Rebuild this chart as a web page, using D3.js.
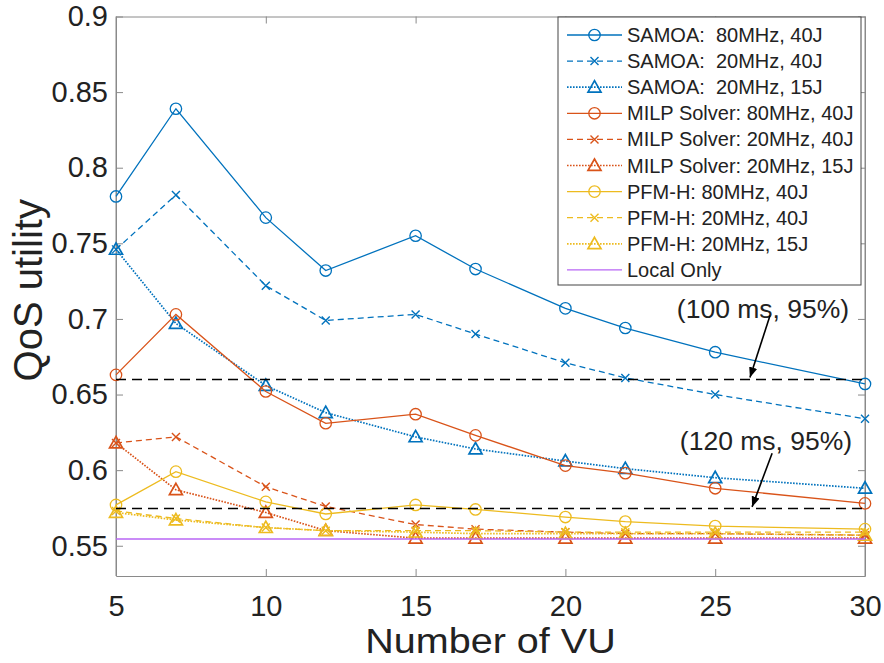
<!DOCTYPE html>
<meta charset="utf-8">
<head>
<title>QoS utility vs number of VU</title>
<style>
  body { margin: 0; background: #fff; }
  text { font-family: "Liberation Sans", Arial, sans-serif; fill: #222; }
</style>
</head>
<body>
<svg width="884" height="663"></svg>
<script src="https://cdn.jsdelivr.net/npm/d3@7"></script>
<script>

// x values (number of VU)
var numVU = [5, 7, 10, 12, 15, 17, 20, 22, 25, 30];

// series values
var samoa80_40 = [0.781, 0.839, 0.767, 0.732, 0.755, 0.733, 0.707, 0.694, 0.678, 0.657];
var samoa20_40 = [0.746, 0.782, 0.722, 0.699, 0.703, 0.690, 0.671, 0.661, 0.650, 0.634];
var samoa20_15 = [0.746, 0.697, 0.656, 0.638, 0.622, 0.614, 0.606, 0.601, 0.595, 0.588];
var milp80_40  = [0.663, 0.703, 0.652, 0.631, 0.637, 0.623, 0.603, 0.598, 0.588, 0.578];
var milp20_40  = [0.618, 0.622, 0.589, 0.576, 0.564, 0.561, 0.559, 0.558, 0.558, 0.557];
var milp20_15  = [0.618, 0.587, 0.572, 0.560, 0.555, 0.555, 0.555, 0.555, 0.555, 0.555];
var pfm80_40   = [0.577, 0.599, 0.579, 0.571, 0.577, 0.574, 0.569, 0.566, 0.563, 0.561];
var pfm20_40   = [0.573, 0.568, 0.562, 0.560, 0.560, 0.560, 0.559, 0.559, 0.559, 0.559];
var pfm20_15   = [0.572, 0.567, 0.562, 0.560, 0.559, 0.558, 0.558, 0.558, 0.558, 0.557];
var localOnly  = [0.5545, 0.5545, 0.5545, 0.5545, 0.5545, 0.5545, 0.5545, 0.5545, 0.5545, 0.5545];

var seriesNames = [
  "SAMOA:  80MHz, 40J", "SAMOA:  20MHz, 40J", "SAMOA:  20MHz, 15J",
  "MILP Solver: 80MHz, 40J", "MILP Solver: 20MHz, 40J", "MILP Solver: 20MHz, 15J",
  "PFM-H: 80MHz, 40J", "PFM-H: 20MHz, 40J", "PFM-H: 20MHz, 15J",
  "Local Only"
];

// reference thresholds and their notes
var refLevels = [0.66, 0.5747];
var refNotes = ["(100 ms, 95%)", "(120 ms, 95%)"];
var noteAt = [[23.72, 0.7004], [23.82, 0.6132]];          // text anchor (x, y)
var arrowFrom = [[26.83, 0.7023], [26.9, 0.6112]];
var arrowTo = [[26.16, 0.6612], [26.23, 0.5757]];

var xTicks = [5, 10, 15, 20, 25, 30];
var yTicks = [0.55, 0.6, 0.65, 0.7, 0.75, 0.8, 0.85, 0.9];

// colours / styles
var blue = "#0072BD", orange = "#D95319", yellow = "#EDBB1F", purple = "#B866F5";
var dashed = "6,4", dotted = "1.6,1.4";
var styles = [
  {c: blue, dash: null, m: "o"}, {c: blue, dash: dashed, m: "x"}, {c: blue, dash: dotted, m: "^"},
  {c: orange, dash: null, m: "o"}, {c: orange, dash: dashed, m: "x"}, {c: orange, dash: dotted, m: "^"},
  {c: yellow, dash: null, m: "o"}, {c: yellow, dash: dashed, m: "x"}, {c: yellow, dash: dotted, m: "^"},
  {c: purple, dash: null, m: null}
];
var allValues = [samoa80_40, samoa20_40, samoa20_15, milp80_40, milp20_40, milp20_15,
                 pfm80_40, pfm20_40, pfm20_15, localOnly];

var svg = d3.select("svg");
var mLeft = 116, mRight = 865, mTop = 16.5, mBottom = 576;

var x = d3.scaleLinear().domain([5, 30]).range([mLeft, mRight]);
var y = d3.scaleLinear().domain([0.53, 0.9]).range([mBottom, mTop]);

var defs = svg.append("defs");
defs.append("marker")
  .attr("id", "head")
  .attr("viewBox", "0 0 10 10")
  .attr("refX", 10).attr("refY", 5)
  .attr("markerWidth", 6.5).attr("markerHeight", 6.5)
  .attr("markerUnits", "strokeWidth")
  .attr("orient", "auto")
  .append("path").attr("d", "M0,1 L10,5 L0,9 Z").attr("fill", "#000");

// axes (box)
var axisColor = "#8a8a8a";
var fmt = function(d) { return String(+d.toFixed(2)); };

var gx = svg.append("g").attr("transform", "translate(0," + mBottom + ")")
  .call(d3.axisBottom(x).tickValues(xTicks).tickSizeInner(-7).tickSizeOuter(0).tickPadding(19));
var gxTop = svg.append("g").attr("transform", "translate(0," + mTop + ")")
  .call(d3.axisTop(x).tickValues(xTicks).tickSizeInner(-7).tickSizeOuter(0).tickFormat(""));
var gy = svg.append("g").attr("transform", "translate(" + mLeft + ",0)")
  .call(d3.axisLeft(y).tickValues(yTicks).tickSizeInner(-7).tickSizeOuter(0).tickPadding(8).tickFormat(fmt));
var gyRight = svg.append("g").attr("transform", "translate(" + mRight + ",0)")
  .call(d3.axisRight(y).tickValues(yTicks).tickSizeInner(-7).tickSizeOuter(0).tickFormat(""));

[gx, gxTop, gy, gyRight].forEach(function(g) {
  g.select(".domain").attr("stroke", axisColor);
  g.selectAll(".tick line").attr("stroke", axisColor);
  g.selectAll(".tick text").attr("fill", "#222")
    .style("font-size", "29px").style("font-family", "'Liberation Sans', Arial, sans-serif");
});
// full-length box edges
svg.append("line").attr("x1", mLeft).attr("x2", mLeft).attr("y1", mTop).attr("y2", mBottom).attr("stroke", axisColor);
svg.append("line").attr("x1", mRight).attr("x2", mRight).attr("y1", mTop).attr("y2", mBottom).attr("stroke", axisColor);

// axis labels
svg.append("text").attr("transform", "translate(" + ((mLeft + mRight) / 2) + ",653) scale(1.13,1)")
  .attr("text-anchor", "middle").style("font-size", "35px").text("Number of VU");
svg.append("text").attr("transform", "translate(42," + ((mTop + mBottom) / 2 - 6) + ") rotate(-90)")
  .attr("text-anchor", "middle").style("font-size", "40px").text("QoS utility");

// marker drawing
function drawMarker(g, kind, cx, cy, color) {
  if (kind === "o") {
    g.append("circle").attr("cx", cx).attr("cy", cy).attr("r", 5.7)
      .attr("fill", "none").attr("stroke", color).attr("stroke-width", 1.3);
  } else if (kind === "x") {
    var s = 4;
    g.append("path").attr("d", "M" + (cx - s) + "," + (cy - s) + "L" + (cx + s) + "," + (cy + s) +
      "M" + (cx - s) + "," + (cy + s) + "L" + (cx + s) + "," + (cy - s))
      .attr("stroke", color).attr("stroke-width", 1.4).attr("fill", "none");
  } else if (kind === "^") {
    var h = 6.5;
    g.append("path").attr("d", "M" + cx + "," + (cy - h) + "L" + (cx + h) + "," + (cy + h * 0.75) +
      "L" + (cx - h) + "," + (cy + h * 0.75) + "Z")
      .attr("stroke", color).attr("stroke-width", 1.7).attr("fill", "none");
  }
}

var line = d3.line().x(function(d, i) { return x(numVU[i]); }).y(function(d) { return y(d); });

var plot = svg.append("g");
allValues.forEach(function(vals, k) {
  var st = styles[k];
  var g = plot.append("g");
  g.append("path").datum(vals).attr("d", line)
    .attr("fill", "none").attr("stroke", st.c)
    .attr("stroke-width", st.dash === dotted ? 1.7 : (st.m ? 1.3 : 1.6))
    .attr("stroke-dasharray", st.dash);
  if (st.m) {
    vals.forEach(function(v, i) { drawMarker(g, st.m, x(numVU[i]), y(v), st.c); });
  }
});

// reference lines
refLevels.forEach(function(v) {
  svg.append("line").attr("x1", mLeft).attr("x2", mRight).attr("y1", y(v)).attr("y2", y(v))
    .attr("stroke", "#000").attr("stroke-width", 1.5).attr("stroke-dasharray", "10,6");
});

// annotations
refNotes.forEach(function(t, i) {
  svg.append("text").attr("x", x(noteAt[i][0])).attr("y", y(noteAt[i][1]))
    .style("font-size", "26.5px").attr("fill", "#111").text(t);
  svg.append("line")
    .attr("x1", x(arrowFrom[i][0])).attr("y1", y(arrowFrom[i][1]))
    .attr("x2", x(arrowTo[i][0])).attr("y2", y(arrowTo[i][1]))
    .attr("stroke", "#000").attr("stroke-width", 1.6).attr("marker-end", "url(#head)");
});

// legend
var lg = svg.append("g").attr("transform", "translate(558,17)");
lg.append("rect").attr("width", 303).attr("height", 268)
  .attr("fill", "#fff").attr("stroke", "#444").attr("stroke-width", 1);
seriesNames.forEach(function(name, k) {
  var st = styles[k];
  var yy = 18 + k * 26.1;
  lg.append("line").attr("x1", 9).attr("x2", 64).attr("y1", yy).attr("y2", yy)
    .attr("stroke", st.c).attr("stroke-width", st.dash === dotted ? 1.7 : 1.3)
    .attr("stroke-dasharray", st.dash);
  if (st.m) drawMarker(lg, st.m, 36.5, yy, st.c);
  lg.append("text").attr("x", 69).attr("y", yy).attr("dy", "0.35em")
    .style("font-size", "20px").style("white-space", "pre").text(name);
});

</script>
</body>
